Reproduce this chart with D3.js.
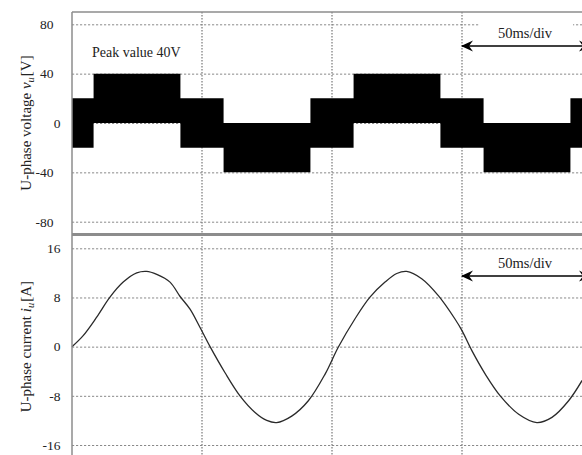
<!DOCTYPE html>
<html>
<head>
<meta charset="utf-8">
<script src="https://cdn.jsdelivr.net/npm/d3@7"></script>
<style>
  body { margin: 0; background: #fff; }
  svg text { font-family: "Liberation Serif", "Times New Roman", serif; fill: #222; }
  .grid-h line { stroke: #8a8a8a; stroke-width: 1; stroke-dasharray: 2.2,1.8; }
  .grid-v { stroke: #777; stroke-width: 1.2; stroke-dasharray: 1.5,1.5; }
  .frame { stroke: #8c8c8c; fill: none; }
</style>
</head>
<body>
<div id="chart"></div>
<script>
// time axis (ms), 50 ms per division
var timeDomain = [0, 200];
var divTicks = [50, 100, 150];

// voltage: switching band between two levels on each interval
var voltEdges = [0, 8.3, 41.7, 58.3, 91.7, 108.3, 141.7, 158.3, 191.7, 200];
var voltLow  = [-20, 0, -20, -40, -20, 0, -20, -40, -20];
var voltHigh = [20, 40, 20, 0, 20, 40, 20, 0, 20];
var voltTicks = [80, 40, 0, -40, -80];

// current
var curT = [0, 4.3, 9.5, 14.6, 19.7, 24.9, 28.7, 32.6, 37.7, 41.5, 45.4, 49.2, 53.1, 58.8,
            64.6, 70.4, 74.9, 78.7, 84.5, 90.9, 97.3, 102.4, 108.8, 114.6, 120.4, 124.9,
            128.7, 134.5, 140.9, 147.3, 150, 153.8, 159, 164.7, 171.8, 178.8, 184.6, 191, 196.2];
var curI = [0, 1.8, 4.8, 8.05, 10.5, 12.0, 12.24, 11.75, 10.5, 8.2, 6.1, 3.15, 0, -4.2,
            -8, -10.7, -12.0, -12.35, -11.3, -8.8, -4.5, -0.1, 4.5, 8.05, 10.5, 11.9,
            12.24, 11.05, 8.3, 4.5, 2.6, -0.65, -4.5, -8, -11, -12.35, -11.5, -8.8, -5.5];
var curTicks = [16, 8, 0, -8, -16];

var W = 582, H = 455;
var left = 72;

var svg = d3.select("#chart").append("svg")
  .attr("width", W).attr("height", H);

var x = d3.scaleLinear().domain(timeDomain).range([left, 592]);
var yV = d3.scaleLinear().domain([-80, 80]).range([221.7, 24.3]);
var yI = d3.scaleLinear().domain([-16, 16]).range([445, 248.3]);

// horizontal grids
function hgrid(scale, ticks) {
  svg.append("g")
    .attr("class", "grid-h")
    .attr("transform", "translate(" + left + ",0)")
    .call(d3.axisRight(scale).tickValues(ticks).tickSize(W - left).tickFormat(""))
    .call(g => g.select(".domain").remove());
}
hgrid(yV, voltTicks);
hgrid(yI, curTicks);

// vertical division lines
svg.append("g").selectAll("line")
  .data(divTicks)
  .join("line")
    .attr("class", "grid-v")
    .attr("x1", d => x(d)).attr("x2", d => x(d))
    .attr("y1", 12).attr("y2", H);

// voltage band as one stepped area
var n = voltLow.length;
var bandIdx = d3.range(voltEdges.length);
var band = d3.area()
  .x(i => x(voltEdges[i]))
  .y0(i => yV(voltLow[Math.min(i, n - 1)]))
  .y1(i => yV(voltHigh[Math.min(i, n - 1)]))
  .curve(d3.curveStepAfter);
svg.append("path")
  .datum(bandIdx)
  .attr("d", band)
  .attr("fill", "#000");

// current trace
var line = d3.line()
  .x((d, i) => x(curT[i]))
  .y(d => yI(d))
  .curve(d3.curveCatmullRom);
svg.append("path")
  .datum(curI)
  .attr("d", line)
  .attr("fill", "none")
  .attr("stroke", "#2a2a2a")
  .attr("stroke-width", 1.3);

// frames
svg.append("line").attr("class", "frame").attr("stroke-width", 1.5)
  .attr("x1", left).attr("x2", W).attr("y1", 12).attr("y2", 12);
svg.append("line").attr("class", "frame").attr("stroke-width", 1.5)
  .attr("x1", left).attr("x2", left).attr("y1", 12).attr("y2", H);
svg.append("line").attr("class", "frame").attr("stroke-width", 3)
  .attr("x1", left).attr("x2", W).attr("y1", 234.5).attr("y2", 234.5);

// tick labels
function ticksLeft(scale, ticks, pad) {
  var g = svg.append("g")
    .attr("transform", "translate(" + left + ",0)")
    .call(d3.axisLeft(scale).tickValues(ticks).tickSize(0).tickPadding(pad)
      .tickFormat(d => String(d)))
    .call(g => g.select(".domain").remove());
  g.attr("font-family", null).attr("font-size", null);
  g.selectAll("text").attr("fill", "#222")
    .style("font-family", "'Liberation Serif', serif").style("font-size", "13.5px");
  return g;
}
var gv = ticksLeft(yV, voltTicks, 18.5);
gv.selectAll(".tick text").filter(d => d === 0).attr("x", -11.5);
ticksLeft(yI, curTicks, 11.5);

// axis titles
function ytitle(cy, pre, sym, unit) {
  var t = svg.append("text")
    .attr("transform", "translate(31," + cy + ") rotate(-90)")
    .attr("text-anchor", "middle")
    .style("font-size", "15px");
  t.append("tspan").text(pre);
  t.append("tspan").style("font-style", "italic").text(sym);
  t.append("tspan").style("font-style", "italic").style("font-size", "10.5px")
    .attr("dy", 3).text("u");
  t.append("tspan").attr("dy", -3).attr("dx", 1).text(unit);
}
ytitle(yV(0), "U-phase voltage ", "v", "[V]");
ytitle(yI(0), "U-phase current ", "i", "[A]");

// annotations
svg.append("text").attr("x", 92).attr("y", 57)
  .style("font-size", "14px").text("Peak value 40V");

var defs = svg.append("defs");
defs.append("marker")
  .attr("id", "ah").attr("viewBox", "0 -6 12 12")
  .attr("refX", 11).attr("refY", 0)
  .attr("markerWidth", 12).attr("markerHeight", 12)
  .attr("markerUnits", "userSpaceOnUse")
  .attr("orient", "auto-start-reverse")
  .append("path").attr("d", "M0,-5.5 L12,0 L0,5.5 L4,0 Z").attr("fill", "#000");

function divNote(yText, yArrow, mask) {
  if (mask) {
    svg.append("rect").attr("x", 480).attr("y", 19).attr("width", 93).attr("height", 12)
      .attr("fill", "#fff");
  }
  svg.append("text").attr("x", (x(150) + x(200)) / 2 - 2).attr("y", yText)
    .attr("text-anchor", "middle").style("font-size", "14.5px").text("50ms/div");
  svg.append("line")
    .attr("x1", x(150)).attr("x2", x(200) - 2)
    .attr("y1", yArrow).attr("y2", yArrow)
    .attr("stroke", "#000").attr("stroke-width", 1.6)
    .attr("marker-start", "url(#ah)").attr("marker-end", "url(#ah)");
}
divNote(38, 46, true);
divNote(268, 276, false);
</script>
</body>
</html>
